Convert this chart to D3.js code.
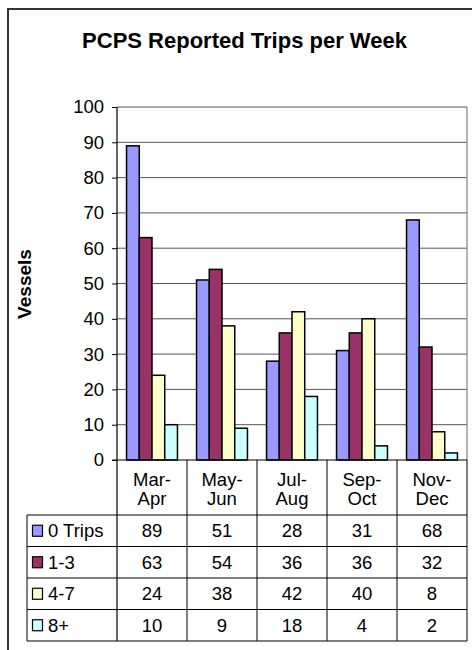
<!DOCTYPE html>
<html>
<head>
<meta charset="utf-8">
<script src="https://cdn.jsdelivr.net/npm/d3@7"></script>
<style>
  html, body { margin: 0; padding: 0; background: #fff; }
  svg { display: block; font-family: "Liberation Sans", Arial, sans-serif; }
</style>
</head>
<body>
<svg id="chart" width="472" height="650"></svg>
<script>
// Vessels reporting trips per week, by two-month period
const categories = [["Mar-", "Apr"], ["May-", "Jun"], ["Jul-", "Aug"], ["Sep-", "Oct"], ["Nov-", "Dec"]];
const seriesNames = ["0 Trips", "1-3", "4-7", "8+"];
const seriesColors = ["#9999FF", "#993366", "#FFFFCC", "#CCFFFF"];
const trips0 = [89, 51, 28, 31, 68];
const trips1to3 = [63, 54, 36, 36, 32];
const trips4to7 = [24, 38, 42, 40, 8];
const trips8plus = [10, 9, 18, 4, 2];
const yTicks = [0, 10, 20, 30, 40, 50, 60, 70, 80, 90, 100];

const seriesValues = [trips0, trips1to3, trips4to7, trips8plus];
const catKeys = categories.map(c => c.join(""));

const svg = d3.select("#chart");

// layout
const plot = { left: 117, right: 467, top: 107, bottom: 460 };
const table = { legendLeft: 27, headerBottom: 515, rowH: 31.5 };
const textSize = 18.5;

const x = d3.scaleBand().domain(catKeys).range([plot.left, plot.right]);
const y = d3.scaleLinear().domain([0, 100]).range([plot.bottom, plot.top]);
const barW = x.bandwidth() / (seriesNames.length + 1.5);
const xs = d3.scaleBand().domain(seriesNames)
  .range([0, barW * seriesNames.length]);
const groupOffset = (x.bandwidth() - barW * seriesNames.length) / 2;

// outer frame
svg.append("rect")
  .attr("x", 8).attr("y", 9).attr("width", 480).attr("height", 660)
  .attr("fill", "#fff").attr("stroke", "#333").attr("stroke-width", 2);

// title
svg.append("text")
  .attr("x", 244.5).attr("y", 48)
  .attr("text-anchor", "middle")
  .attr("font-size", 22).attr("font-weight", "bold")
  .text("PCPS Reported Trips per Week");

// gridlines
svg.append("g")
  .selectAll("line").data(yTicks.filter(t => t > 0))
  .join("line")
  .attr("x1", plot.left).attr("x2", plot.right)
  .attr("y1", d => y(d)).attr("y2", d => y(d))
  .attr("stroke", "#555").attr("stroke-width", 1);

// plot border (right side)
svg.append("line")
  .attr("x1", plot.right).attr("x2", plot.right)
  .attr("y1", plot.top).attr("y2", plot.bottom)
  .attr("stroke", "#808080").attr("stroke-width", 1.2);

// bars
const groups = svg.append("g").selectAll("g").data(seriesNames)
  .join("g")
  .attr("fill", (d, i) => seriesColors[i]);
groups.selectAll("rect")
  .data((s, i) => seriesValues[i].map((v, j) => ({ s, v, cat: catKeys[j] })))
  .join("rect")
  .attr("x", d => x(d.cat) + groupOffset + xs(d.s))
  .attr("width", xs.bandwidth())
  .attr("y", d => y(d.v))
  .attr("height", d => y(0) - y(d.v))
  .attr("stroke", "#000").attr("stroke-width", 1.5);

// y axis
const yAxis = d3.axisLeft(y).tickValues(yTicks).tickSize(5).tickPadding(8);
const yg = svg.append("g")
  .attr("transform", `translate(${plot.left},0)`)
  .call(yAxis);
yg.select(".domain").remove();
yg.selectAll(".tick line").attr("stroke", "#000");
yg.selectAll(".tick text")
  .attr("font-size", textSize).attr("fill", "#000")
  .attr("font-family", "'Liberation Sans', Arial, sans-serif");

// y axis title
svg.append("text")
  .attr("transform", "translate(31,284) rotate(-90)")
  .attr("text-anchor", "middle")
  .attr("font-size", 19).attr("font-weight", "bold")
  .text("Vessels");

// data table
const tableBottom = table.headerBottom + table.rowH * seriesNames.length;
const tg = svg.append("g");

// axis / left edge of the plot continues down through the table
tg.append("line")
  .attr("x1", plot.left).attr("x2", plot.left)
  .attr("y1", plot.top).attr("y2", tableBottom)
  .attr("stroke", "#000").attr("stroke-width", 1.2);
// baseline
tg.append("line")
  .attr("x1", plot.left - 5).attr("x2", plot.right)
  .attr("y1", plot.bottom).attr("y2", plot.bottom)
  .attr("stroke", "#000").attr("stroke-width", 1.2);

// column dividers
tg.selectAll("line.col").data(catKeys)
  .join("line").attr("class", "col")
  .attr("x1", d => x(d) + x.bandwidth()).attr("x2", d => x(d) + x.bandwidth())
  .attr("y1", plot.bottom).attr("y2", tableBottom)
  .attr("stroke", "#000").attr("stroke-width", 1);

// row dividers
tg.selectAll("line.row").data(d3.range(seriesNames.length + 1))
  .join("line").attr("class", "row")
  .attr("x1", table.legendLeft).attr("x2", plot.right)
  .attr("y1", i => table.headerBottom + i * table.rowH)
  .attr("y2", i => table.headerBottom + i * table.rowH)
  .attr("stroke", "#000").attr("stroke-width", 1);

// legend column left edge
tg.append("line")
  .attr("x1", table.legendLeft).attr("x2", table.legendLeft)
  .attr("y1", table.headerBottom).attr("y2", tableBottom)
  .attr("stroke", "#000").attr("stroke-width", 1);

// category headers
const hdr = tg.selectAll("text.hdr").data(categories)
  .join("text").attr("class", "hdr")
  .attr("text-anchor", "middle")
  .attr("font-size", textSize);
hdr.append("tspan")
  .attr("x", (d, i) => x(catKeys[i]) + x.bandwidth() / 2)
  .attr("y", 486)
  .text(d => d[0]);
hdr.append("tspan")
  .attr("x", (d, i) => x(catKeys[i]) + x.bandwidth() / 2)
  .attr("y", 505)
  .text(d => d[1]);

// table rows
seriesNames.forEach((name, si) => {
  const cy = table.headerBottom + si * table.rowH + table.rowH / 2;
  tg.append("rect")
    .attr("x", 32.5).attr("y", cy - 5.5)
    .attr("width", 10).attr("height", 11)
    .attr("fill", seriesColors[si])
    .attr("stroke", "#000").attr("stroke-width", 1.2);
  tg.append("text")
    .attr("x", 48).attr("y", cy + 6.5)
    .attr("font-size", textSize)
    .text(name);
  tg.selectAll(null).data(seriesValues[si])
    .join("text")
    .attr("x", (d, j) => x(catKeys[j]) + x.bandwidth() / 2)
    .attr("y", cy + 6.5)
    .attr("text-anchor", "middle")
    .attr("font-size", textSize)
    .text(d => d);
});
</script>
</body>
</html>
